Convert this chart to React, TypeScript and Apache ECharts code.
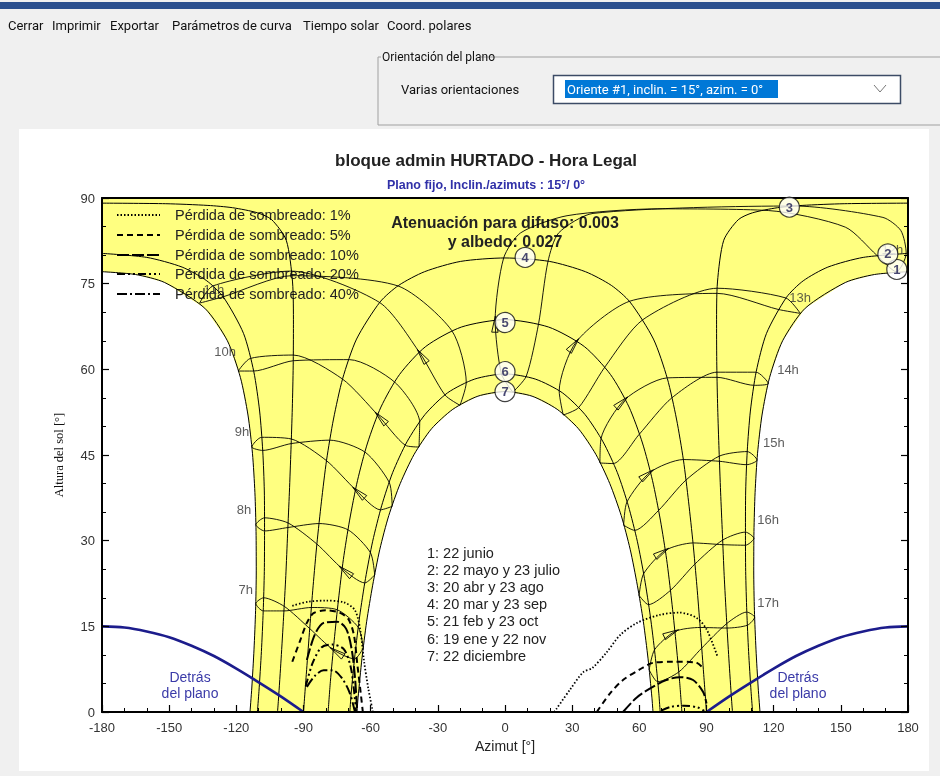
import React, { useEffect, useRef } from "react";
import * as echarts from "echarts";

// ---------- DATA (azimuth °, sun height °) ----------
const path1Morning = [[-113.9,0],[-113.1,4.2],[-112.1,11.0],[-111.4,17.8],[-111.1,24.7],[-111.2,31.6],[-111.7,38.4],[-112.8,45.3],[-114.8,52.0],[-118.2,58.6],[-124.0,65.0],[-134.1,70.7],[-152.0,75.2],[-165.0,76.6],[-180,77.1]];
const path1Afternoon = [[180,77.1],[165.0,76.6],[152.0,75.2],[134.1,70.7],[124.0,65.0],[118.2,58.6],[114.8,52.0],[112.8,45.3],[111.7,38.4],[111.2,31.6],[111.1,24.7],[111.4,17.8],[112.1,11.0],[113.1,4.2],[113.9,0]];
const path2Morning = [[-110.6,0],[-109.9,3.6],[-108.8,10.6],[-108.0,17.6],[-107.5,24.6],[-107.4,31.6],[-107.5,38.7],[-108.2,45.7],[-109.6,52.7],[-112.2,59.6],[-116.8,66.3],[-125.7,72.6],[-133.2,75.5],[-144.2,77.9],[-160.0,79.6],[-180,80.3]];
const path2Afternoon = [[180,80.3],[160.0,79.6],[144.2,77.9],[133.2,75.5],[125.7,72.6],[116.8,66.3],[112.2,59.6],[109.6,52.7],[108.2,45.7],[107.5,38.7],[107.4,31.6],[107.5,24.6],[108.0,17.6],[108.8,10.6],[109.9,3.6],[110.6,0]];
const path3Morning = [[-101.6,0],[-101.2,2.1],[-100.0,9.3],[-98.9,16.6],[-97.9,23.9],[-97.1,31.2],[-96.3,38.5],[-95.6,45.9],[-95.0,53.2],[-94.6,60.6],[-94.5,67.9],[-94.9,75.3],[-97.7,82.6],[-104.2,86.2],[-110.5,87.4],[-121.7,88.3],[-132.7,88.7],[-151.5,89.0],[-180,89.1]];
const path3Afternoon = [[180,89.1],[151.5,89.0],[132.7,88.7],[121.7,88.3],[110.5,87.4],[104.2,86.2],[97.7,82.6],[94.9,75.3],[94.5,67.9],[94.6,60.6],[95.0,53.2],[95.6,45.9],[96.3,38.5],[97.1,31.2],[97.9,23.9],[98.9,16.6],[100.0,9.3],[101.2,2.1],[101.6,0]];
const path4 = [[-90,0],[-88.6,7.4],[-87.2,14.7],[-85.7,22.1],[-84.0,29.5],[-82.0,36.8],[-79.7,44.1],[-76.6,51.3],[-72.5,58.4],[-66.3,65.3],[-55.8,71.8],[-47.5,74.7],[-35.9,77.1],[-19.8,78.9],[0,79.5],[19.8,78.9],[35.9,77.1],[47.5,74.7],[55.8,71.8],[66.3,65.3],[72.5,58.4],[76.6,51.3],[79.7,44.1],[82.0,36.8],[84.0,29.5],[85.7,22.1],[87.2,14.7],[88.6,7.4],[90,0]];
const path5 = [[-79.0,0],[-78.0,5.3],[-76.3,12.5],[-74.4,19.6],[-72.2,26.7],[-69.4,33.6],[-65.9,40.5],[-61.4,47.1],[-55.4,53.4],[-47.1,59.1],[-35.4,64.0],[-19.5,67.4],[0,68.7],[19.5,67.4],[35.4,64.0],[47.1,59.1],[55.4,53.4],[61.4,47.1],[65.9,40.5],[69.4,33.6],[72.2,26.7],[74.4,19.6],[76.3,12.5],[78.0,5.3],[79.0,0]];
const path6 = [[-69.3,0],[-68.7,3.3],[-67.0,10.1],[-64.9,16.8],[-62.3,23.4],[-59.1,29.9],[-55.1,36.1],[-50.2,41.9],[-43.8,47.3],[-35.7,52.1],[-25.6,55.9],[-13.5,58.3],[0,59.2],[13.5,58.3],[25.6,55.9],[35.7,52.1],[43.8,47.3],[50.2,41.9],[55.1,36.1],[59.1,29.9],[62.3,23.4],[64.9,16.8],[67.0,10.1],[68.7,3.3],[69.3,0]];
const path7 = [[-66.1,0],[-65.6,2.6],[-63.9,9.3],[-61.8,15.8],[-59.1,22.2],[-55.9,28.5],[-51.9,34.4],[-46.8,40.0],[-40.6,45.1],[-32.8,49.6],[-23.3,53.0],[-12.1,55.3],[0,56.1],[12.1,55.3],[23.3,53.0],[32.8,49.6],[40.6,45.1],[46.8,40.0],[51.9,34.4],[55.9,28.5],[59.1,22.2],[61.8,15.8],[63.9,9.3],[65.6,2.6],[66.1,0]];

// hour lines (legal time), one loop per hour through the year: Dec, Jan, Feb, Mar, ... Nov, Dec
const hour7 = [[-63.3,11.2],[-67.2,9.3],[-76.7,10.9],[-87.2,14.6],[-98.6,18.5],[-107.8,20.0],[-111.3,19.0],[-108.0,17.7],[-98.7,17.7],[-86.5,18.3],[-74.9,17.9],[-65.5,14.8],[-63.3,11.2]];
const hour8 = [[-58.2,24.0],[-62.6,22.6],[-72.7,25.1],[-84.0,29.4],[-96.9,33.1],[-107.4,34.0],[-111.3,32.8],[-107.4,31.7],[-97.0,32.3],[-83.0,33.0],[-70.1,31.9],[-60.1,27.9],[-58.2,24.0]];
const hour9 = [[-50.4,36.0],[-55.6,35.4],[-66.7,38.9],[-79.7,44.0],[-95.4,47.8],[-108.7,48.1],[-113.1,46.4],[-108.2,45.8],[-95.5,47.0],[-78.2,47.6],[-62.5,45.5],[-51.7,40.2],[-50.4,36.0]];
const hour10 = [[-38.4,46.4],[-44.5,46.7],[-56.8,52.0],[-72.6,58.3],[-94.6,62.5],[-113.8,61.9],[-119.2,59.7],[-112.3,59.7],[-94.6,61.5],[-69.5,61.7],[-49.1,57.7],[-38.1,50.7],[-38.4,46.4]];
const hour11 = [[-20.1,53.7],[-26.8,55.5],[-38.1,62.9],[-56.0,71.7],[-95.6,77.2],[-130.5,74.6],[-136.4,71.6],[-125.9,72.7],[-95.3,76.4],[-47.8,74.6],[-23.8,66.8],[-17.3,57.7],[-20.1,53.7]];
const hour12 = [[3.5,56.0],[-1.6,59.2],[-4.4,68.6],[-0.6,79.5],[7.0,83.9],[27.7,86.9],[68.0,88.1],[117.8,87.8],[152.0,84.9],[166.0,80.0],[174.8,77.1],[179.2,80.3],[176.8,84.3],[168.8,86.6],[129.4,88.6],[39.3,87.3],[24.0,83.9],[19.2,78.9],[15.0,68.0],[9.5,58.8],[3.5,56.0]];
const hour13 = [[26.0,52.0],[24.2,56.2],[31.8,64.8],[55.5,71.9],[94.8,73.3],[121.9,70.5],[131.9,69.8],[125.4,72.5],[94.8,74.2],[61.6,68.7],[44.6,60.4],[32.9,53.3],[26.0,52.0]];
const hour14 = [[42.4,43.6],[42.9,47.9],[53.5,54.7],[72.4,58.5],[94.7,58.6],[111.3,57.2],[117.6,57.5],[112.1,59.5],[94.7,59.5],[74.5,55.0],[59.9,48.6],[48.3,43.5],[42.4,43.6]];
const hour15 = [[53.0,32.7],[54.5,36.8],[64.9,42.0],[79.6,44.2],[95.8,43.9],[108.0,43.3],[112.6,44.1],[108.2,45.6],[95.7,44.8],[80.8,40.6],[68.6,35.3],[57.9,31.8],[53.0,32.7]];
const hour16 = [[59.9,20.4],[61.9,24.2],[71.6,28.3],[84.0,29.6],[97.3,29.3],[107.4,29.2],[111.2,30.4],[107.4,31.5],[97.2,30.1],[84.8,25.9],[73.9,21.3],[64.1,18.8],[59.9,20.4]];
const hour17 = [[64.4,7.4],[66.8,10.9],[75.9,14.1],[87.2,14.8],[99.2,14.7],[108.3,15.2],[111.5,16.6],[108.0,17.5],[99.1,15.5],[87.9,11.2],[77.6,7.0],[68.2,5.3],[64.4,7.4]];
const hourLines = [hour7, hour8, hour9, hour10, hour11, hour12, hour13, hour14, hour15, hour16, hour17];

// iso-shading loss curves
const loss1Left = [[-95,18.6],[-88,19.3],[-80,19.5],[-72,19.2],[-67,17.8],[-64.5,14],[-63,9],[-61,4],[-59,0]];
const loss5Left = [[-95,8.8],[-91.5,12.5],[-88.5,15.6],[-85.5,17.3],[-80,17.8],[-74,17.4],[-70,16.3],[-67.5,13.5],[-66,8.5],[-64.5,3.5],[-63.5,0]];
const loss10Left = [[-88.5,9.1],[-85,13.5],[-81,15.6],[-75,15.8],[-71,14.6],[-68.5,11],[-67,6],[-66,0]];
const loss20Left = [[-89,4.5],[-86,8.5],[-82,11.3],[-77,11.8],[-72,11],[-69,8],[-67.5,4],[-66.5,0]];
const loss40Left = [[-88.5,4.4],[-85,6.3],[-81,7.3],[-77,7.3],[-73,6],[-69.5,3.5],[-67,0]];
const loss1Right = [[22,0],[29,3.9],[35,7],[39,7.7],[45.5,10.5],[51.5,13.5],[59,15.6],[69,17],[78,17.4],[85.5,16.5],[90,14.5],[95,9.6]];
const loss5Right = [[41,0],[47,3.3],[52.7,5.6],[60,7.4],[66,8.6],[75,8.8],[85,8.7],[89,7.5]];
const loss10Right = [[52.7,0],[59,2.6],[66,4.4],[72,5.6],[78,6.1],[84,5.6],[88.5,3.5],[90,1.5]];
const loss20Right = [[70,0.3],[74,0.9],[80,1.1],[86,0.8],[89,0.2]];

// plane horizon ("behind the plane")
const behindLeft = [[-180,15.0],[-170,14.8],[-160,14.1],[-150,13.1],[-140,11.6],[-130,9.8],[-120,7.6],[-110,5.2],[-100,2.7],[-90,0]];
const behindRight = [[90,0],[100,2.7],[110,5.2],[120,7.6],[130,9.8],[140,11.6],[150,13.1],[160,14.1],[170,14.8],[180,15.0]];

// labels
const dateLabels = ["1", "2", "3", "4", "5", "6", "7"];
const dateLabelPos = [[175,77.5],[171,80.2],[127,88.4],[9,79.6],[0,68.2],[0,59.6],[0,56.1]];
const hourLabels = ["7h","8h","9h","10h","11h","12h","13h","14h","15h","16h","17h"];
const hourLabelPos = [[-115.8,21.4],[-116.6,35.4],[-117.5,49.1],[-125,63.2],[-130,74],[173,81],[131.8,72.6],[126.4,60],[120.1,47.2],[117.5,33.7],[117.5,19.1]];
const dateNames = ["1: 22 junio","2: 22 mayo y 23 julio","3: 20 abr y 23 ago","4: 20 mar y 23 sep","5: 21 feb y 23 oct","6: 19 ene y 22 nov","7: 22 diciembre"];
const lossNames = ["Pérdida de sombreado: 1%","Pérdida de sombreado: 5%","Pérdida de sombreado: 10%","Pérdida de sombreado: 20%","Pérdida de sombreado: 40%"];
const menuItems = ["Cerrar","Imprimir","Exportar","Parámetros de curva","Tiempo solar","Coord. polares"];
const titleText = "bloque admin HURTADO - Hora Legal";
const subtitleText = "Plano fijo, Inclin./azimuts : 15°/ 0°";
const diffuseText = ["Atenuación para difuso: 0.003", "y albedo: 0.027"];

// ---------- STYLE ----------
const SANS = '"Liberation Sans", Arial, sans-serif';
const UI = 'Roboto, "Noto Sans", sans-serif';
const lossDash = [[1.5, 2], [6, 4], [12, 3], [8, 3, 2, 3, 2, 3], [10, 3, 2, 3]];
const lossWidth = [1.8, 2, 2, 2, 2];
const menuX = [8, 52, 110, 172, 303, 387];
const legendRowY = [215, 235, 255, 274, 294];
const BLUE_TXT = "#3a3aa8";

function blackLine(data: number[][], width = 1) {
  return {
    type: "line", data, showSymbol: false, symbol: "none", smooth: 0.25,
    lineStyle: { color: "#000", width }, silent: true, z: 3,
  };
}
function lossLine(data: number[][], i: number) {
  return {
    type: "line", data, showSymbol: false, symbol: "none", smooth: 0.3,
    lineStyle: { color: "#000", width: lossWidth[i], type: lossDash[i] }, silent: true, z: 4,
  };
}

export default function App() {
  const ref = useRef<HTMLDivElement>(null);
  useEffect(() => {
    const chart = echarts.init(ref.current!, null, { renderer: "svg" });
    const yellowOutline = [...path1Morning, [-180, 90], [180, 90], ...path1Afternoon, ...[...path7].reverse()];

    const axisCommon = {
      axisLine: { show: true, onZero: false, lineStyle: { color: "#000", width: 2 } },
      axisTick: { show: true, inside: true, length: 7, lineStyle: { color: "#000", width: 1.2 } },
      minorTick: { show: true, splitNumber: 3, length: 4, lineStyle: { color: "#000", width: 1 } },
      splitLine: { show: false },
      minorSplitLine: { show: false },
      z: 6,
    };
    const midText = (x: number, y: number, text: string, font: string, fill: string, align = "center") => ({
      type: "text", z: 2, x, y, style: { text, fill, font, textAlign: align, textVerticalAlign: "middle" },
    });

    const graphic: any[] = [
      { type: "rect", z: -20, silent: true, shape: { x: 0, y: 0, width: 940, height: 776 }, style: { fill: "#f0f0f0" } },
      { type: "rect", z: -19, silent: true, shape: { x: 0, y: 2, width: 940, height: 7 }, style: { fill: "#2b4f8e" } },
      ...menuItems.map((t, i) => ({
        type: "text", z: -18, x: menuX[i], y: 25,
        style: { text: t, fill: "#111", font: `13px ${UI}`, textVerticalAlign: "middle" },
      })),
      // group box
      { type: "line", z: -18, shape: { x1: 378, y1: 57, x2: 381, y2: 57 }, style: { stroke: "#a0a0a0", lineWidth: 1 } },
      { type: "line", z: -18, shape: { x1: 481, y1: 57, x2: 940, y2: 57 }, style: { stroke: "#a0a0a0", lineWidth: 1 } },
      { type: "line", z: -18, shape: { x1: 378, y1: 57, x2: 378, y2: 125 }, style: { stroke: "#a0a0a0", lineWidth: 1 } },
      { type: "line", z: -18, shape: { x1: 378, y1: 125, x2: 940, y2: 125 }, style: { stroke: "#a0a0a0", lineWidth: 1 } },
      { type: "text", z: -18, x: 382, y: 57, style: { text: "Orientación del plano", fill: "#111", font: `12px ${UI}`, textVerticalAlign: "middle" } },
      { type: "text", z: -18, x: 401, y: 89, style: { text: "Varias orientaciones", fill: "#111", font: `13px ${UI}`, textVerticalAlign: "middle" } },
      { type: "rect", z: -18, shape: { x: 553.5, y: 75.5, width: 347, height: 28 }, style: { fill: "#fff", stroke: "#3c4b66", lineWidth: 1.5 } },
      { type: "rect", z: -17, shape: { x: 565, y: 80, width: 213, height: 18 }, style: { fill: "#0078d7" } },
      { type: "text", z: -16, x: 567, y: 89, style: { text: "Oriente #1, inclin. = 15°, azim. = 0°", fill: "#fff", font: `13px ${UI}`, textVerticalAlign: "middle" } },
      { type: "polyline", z: -16, shape: { points: [[874, 85], [880, 92], [886, 85]] }, style: { stroke: "#777", lineWidth: 1, fill: null } },
      // chart panel
      { type: "rect", z: -15, silent: true, shape: { x: 19, y: 129, width: 910, height: 642 }, style: { fill: "#fff" } },
      midText(486, 160, titleText, `bold 17px ${SANS}`, "#222"),
      midText(486, 185, subtitleText, `bold 12.5px ${SANS}`, "#3030a8"),
      midText(505, 222, diffuseText[0], `bold 16px ${SANS}`, "#222"),
      midText(505, 241, diffuseText[1], `bold 16px ${SANS}`, "#222"),
      ...lossNames.flatMap((t, i) => [
        { type: "line", z: 2, shape: { x1: 117, y1: legendRowY[i], x2: 160, y2: legendRowY[i] }, style: { stroke: "#000", lineWidth: lossWidth[i], lineDash: lossDash[i] } },
        midText(175, legendRowY[i], t, `14.5px ${SANS}`, "#222", "left"),
      ]),
      ...dateNames.map((t, i) => midText(427, 553 + i * 17.1, t, `14.5px ${SANS}`, "#222", "left")),
      midText(190, 677, "Detrás", `14px ${SANS}`, BLUE_TXT),
      midText(190, 693, "del plano", `14px ${SANS}`, BLUE_TXT),
      midText(798, 677, "Detrás", `14px ${SANS}`, BLUE_TXT),
      midText(798, 693, "del plano", `14px ${SANS}`, BLUE_TXT),
    ];

    const option: any = {
      animation: false,
      grid: { left: 102, right: 32, top: 198, bottom: 64, containLabel: false },
      xAxis: [
        {
          type: "value", min: -180, max: 180, interval: 30, position: "bottom", ...axisCommon,
          axisLabel: { color: "#333", fontSize: 13, fontFamily: SANS, margin: 9 },
          name: "Azimut [°]", nameLocation: "middle", nameGap: 26,
          nameTextStyle: { color: "#222", fontSize: 14, fontFamily: SANS },
        },
        {
          type: "value", min: -180, max: 180, interval: 30, position: "top", ...axisCommon,
          axisTick: { show: false }, minorTick: { show: false }, axisLabel: { show: false },
        },
      ],
      yAxis: [
        {
          type: "value", min: 0, max: 90, interval: 15, position: "left", ...axisCommon,
          axisLabel: { color: "#333", fontSize: 13, fontFamily: SANS, margin: 7 },
          name: "Altura del sol [°]", nameLocation: "middle", nameGap: 37, nameRotate: 90,
          nameTextStyle: { color: "#111", fontSize: 12.5, fontFamily: '"Liberation Serif", "Times New Roman", serif' },
        },
        {
          type: "value", min: 0, max: 90, interval: 15, position: "right", ...axisCommon,
          axisLabel: { show: false },
        },
      ],
      graphic,
      series: [
        {
          type: "custom", coordinateSystem: "cartesian2d", data: [[0, 0]], z: 1, silent: true, clip: true,
          renderItem: (_p: any, api: any) => ({
            type: "polygon",
            shape: { points: yellowOutline.map((p) => api.coord(p)) },
            style: { fill: "#ffff80", stroke: null },
          }),
        },
        blackLine(path1Morning), blackLine(path1Afternoon),
        blackLine(path2Morning), blackLine(path2Afternoon),
        blackLine(path3Morning), blackLine(path3Afternoon),
        blackLine(path4), blackLine(path5), blackLine(path6), blackLine(path7),
        ...hourLines.map((d) => blackLine(d, 0.9)),
        // direction arrows on hour lines (at the February point, pointing Jan -> Mar)
        {
          type: "custom", coordinateSystem: "cartesian2d", z: 4, silent: true, clip: true,
          data: hourLines.map((l) => l[2]),
          renderItem: (p: any, api: any) => {
            const l = hourLines[p.dataIndex];
            const a = api.coord(l[1]);
            const b = api.coord(l[3]);
            const t = api.coord(l[2]);
            const dx = b[0] - a[0], dy = b[1] - a[1];
            const n = Math.hypot(dx, dy) || 1;
            const ux = dx / n, uy = dy / n;
            const L = 16, s = 0.2;
            const tip = [t[0] + 4 * ux, t[1] + 4 * uy];
            const w1 = [tip[0] - L * (ux - s * uy), tip[1] - L * (uy + s * ux)];
            const w2 = [tip[0] - L * (ux + s * uy), tip[1] - L * (uy - s * ux)];
            return {
              type: "polygon",
              shape: { points: [w1, tip, w2] },
              style: { stroke: "#000", lineWidth: 0.9, fill: "none" },
            };
          },
        },
        lossLine(loss1Left, 0), lossLine(loss5Left, 1), lossLine(loss10Left, 2), lossLine(loss20Left, 3), lossLine(loss40Left, 4),
        lossLine(loss1Right, 0), lossLine(loss5Right, 1), lossLine(loss10Right, 2), lossLine(loss20Right, 3),
        ...[behindLeft, behindRight].map((d) => ({
          type: "line", data: d, showSymbol: false, symbol: "none", smooth: 0.3, silent: true, z: 5,
          lineStyle: { color: "#1c1c8c", width: 2.6 },
        })),
        {
          type: "scatter", silent: true, z: 8, symbolSize: 0,
          data: hourLabelPos.map((p, i) => ({ value: p, label: { formatter: hourLabels[i] } })),
          label: { show: true, position: "inside", color: "#333", fontSize: 13, fontFamily: SANS },
        },
        {
          type: "scatter", silent: true, z: 10, symbol: "circle", symbolSize: 20,
          itemStyle: { color: "#fff", borderColor: "#111", borderWidth: 1.2 },
          data: dateLabelPos.map((p, i) => ({ value: p, label: { formatter: dateLabels[i] } })),
          label: { show: true, position: "inside", color: "#1a1a50", fontSize: 13, fontWeight: "bold", fontFamily: SANS },
        },
      ],
    };
    chart.setOption(option);
    return () => chart.dispose();
  }, []);
  return <div ref={ref} style={{ position: "fixed", left: 0, top: 0, width: 940, height: 776 }} />;
}
